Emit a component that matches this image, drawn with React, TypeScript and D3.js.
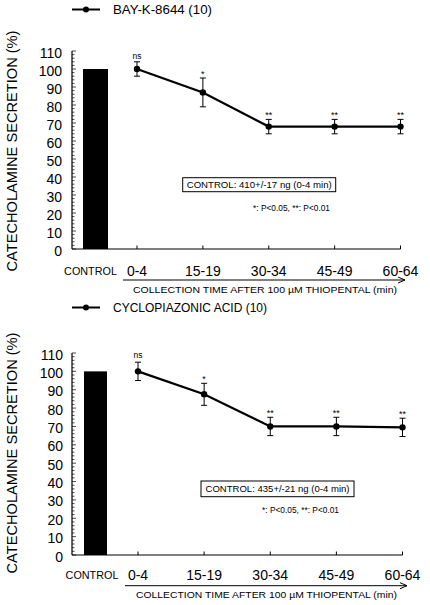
import React from "react";
import * as d3 from "d3";

// ---------- data ----------
const categories = ["0-4", "15-19", "30-34", "45-49", "60-64"];
const controlValue = 100;
const bayMeans = [100, 87, 68, 68, 68];
const bayErrors = [4, 8, 4, 4, 4];
const cpaMeans = [100, 87.5, 70, 70, 69.5];
const cpaErrors = [5, 6, 5, 5, 5];
const significance = ["ns", "*", "**", "**", "**"];
const yTicks = [0, 10, 20, 30, 40, 50, 60, 70, 80, 90, 100, 110];
const yMinorTicks = d3.range(0, 111, 2);

const FONT = "'Liberation Sans', Arial, Helvetica, sans-serif";

type PanelLayout = {
  y0: number;
  yTop: number;
  xStart: number;
  xEnd: number;
  barX1: number;
  barX2: number;
  axisX: number;
  axisEnd: number;
  tickLabelRight: number;
  labelY: number;
  controlLabelX: number;
  arrowX1: number;
  arrowX2: number;
  arrowY: number;
  titleX1: number;
  titleX2: number;
  titleY: number;
  legendY: number;
  legendText: string;
  legendSize: number;
  legendWidth: number;
  boxX: number;
  boxY: number;
  boxW: number;
  boxH: number;
  boxText: string;
  boxTextX: number;
  boxTextW: number;
  pX: number;
  pY: number;
  yTitleCenter: number;
  nsOffset: number;
  starOffset: number;
};

const topLayout: PanelLayout = {
  y0: 249,
  yTop: 51,
  xStart: 137,
  xEnd: 400.5,
  barX1: 83,
  barX2: 108,
  axisX: 72,
  axisEnd: 400.5,
  tickLabelRight: 62,
  labelY: 276,
  controlLabelX: 90.5,
  arrowX1: 123,
  arrowX2: 405,
  arrowY: 280,
  titleX1: 133,
  titleX2: 397,
  titleY: 292.5,
  legendY: 9.5,
  legendText: "BAY-K-8644 (10)",
  legendSize: 13,
  legendWidth: 99,
  boxX: 182.7,
  boxY: 177.7,
  boxW: 153,
  boxH: 14,
  boxText: "CONTROL: 410+/-17 ng (0-4 min)",
  boxTextX: 186.7,
  boxTextW: 145,
  pX: 253,
  pY: 211,
  yTitleCenter: 151,
  nsOffset: 3,
  starOffset: 1,
};

const bottomLayout: PanelLayout = {
  y0: 555,
  yTop: 353,
  xStart: 138,
  xEnd: 402.5,
  barX1: 84,
  barX2: 107,
  axisX: 72,
  axisEnd: 402.5,
  tickLabelRight: 63,
  labelY: 580,
  controlLabelX: 92,
  arrowX1: 125,
  arrowX2: 407,
  arrowY: 585.7,
  titleX1: 136,
  titleX2: 397,
  titleY: 597.5,
  legendY: 307.5,
  legendText: "CYCLOPIAZONIC ACID (10)",
  legendSize: 12,
  legendWidth: 154,
  boxX: 201,
  boxY: 481,
  boxW: 153,
  boxH: 15.7,
  boxText: "CONTROL: 435+/-21 ng (0-4 min)",
  boxTextX: 205.5,
  boxTextW: 144,
  pX: 262,
  pY: 513,
  yTitleCenter: 453,
  nsOffset: 4,
  starOffset: 1.5,
};

function Panel({ L, means, errors }: { L: PanelLayout; means: number[]; errors: number[] }) {
  const y = d3.scaleLinear().domain([0, 110]).range([L.y0, L.yTop]);
  const x = d3.scalePoint<string>().domain(categories).range([L.xStart, L.xEnd]);
  const pts = categories.map((c, i) => ({ c, m: means[i], e: errors[i], s: significance[i] }));
  const line = d3
    .line<(typeof pts)[number]>()
    .x((d) => x(d.c) as number)
    .y((d) => y(d.m));
  const titleLen = L.titleX2 - L.titleX1;

  return (
    <g fontFamily={FONT} fill="#000">
      {/* legend */}
      <line x1={72} x2={100} y1={L.legendY} y2={L.legendY} stroke="#000" strokeWidth={2} />
      <circle cx={86} cy={L.legendY} r={3} fill="#000" />
      <text
        x={113}
        y={L.legendY + L.legendSize * 0.358}
        fontSize={L.legendSize}
        textLength={L.legendWidth}
        lengthAdjust="spacingAndGlyphs"
      >
        {L.legendText}
      </text>

      {/* y axis title */}
      <text
        transform={`translate(16.5,${L.yTitleCenter}) rotate(-90)`}
        textAnchor="middle"
        fontSize={15}
        textLength={241}
        lengthAdjust="spacingAndGlyphs"
      >
        CATECHOLAMINE SECRETION (%)
      </text>

      {/* control bar */}
      <rect
        x={L.barX1}
        width={L.barX2 - L.barX1}
        y={y(controlValue)}
        height={y(0) - y(controlValue)}
        fill="#000"
      />

      {/* y axis */}
      <line x1={L.axisX} x2={L.axisX} y1={y(0)} y2={y(110)} stroke="#000" strokeWidth={1.2} />
      {yMinorTicks.map((t) => (
        <line
          key={"m" + t}
          x1={L.axisX}
          x2={L.axisX + (t % 10 === 0 ? 4 : 2.5)}
          y1={y(t)}
          y2={y(t)}
          stroke="#000"
          strokeWidth={0.7}
        />
      ))}
      {yTicks.map((t) => (
        <text
          key={"t" + t}
          x={L.tickLabelRight}
          y={y(t) + 6.5}
          textAnchor="end"
          fontSize={14}
        >
          {t}
        </text>
      ))}

      {/* x axis */}
      <line x1={L.axisX} x2={L.axisEnd} y1={y(0)} y2={y(0)} stroke="#000" strokeWidth={1.2} />
      {categories.map((c) => (
        <line
          key={"xt" + c}
          x1={x(c)}
          x2={x(c)}
          y1={y(0)}
          y2={y(0) - 3.5}
          stroke="#000"
          strokeWidth={1}
        />
      ))}
      {categories.map((c) => (
        <text key={"xl" + c} x={x(c)} y={L.labelY} textAnchor="middle" fontSize={14}>
          {c}
        </text>
      ))}
      <text x={L.controlLabelX} y={L.labelY - 1} textAnchor="middle" fontSize={10.8}>
        CONTROL
      </text>

      {/* arrow and x title */}
      <line x1={L.arrowX1} x2={L.arrowX2} y1={L.arrowY} y2={L.arrowY} stroke="#000" strokeWidth={1} />
      <path
        d={`M${L.arrowX2 - 7},${L.arrowY - 3} L${L.arrowX2},${L.arrowY} L${L.arrowX2 - 7},${L.arrowY + 3}`}
        fill="none"
        stroke="#000"
        strokeWidth={1}
      />
      <text
        x={L.titleX1}
        y={L.titleY}
        fontSize={9.5}
        textLength={titleLen}
        lengthAdjust="spacingAndGlyphs"
      >
        COLLECTION TIME AFTER 100 µM THIOPENTAL (min)
      </text>

      {/* line + points */}
      <path d={line(pts) || ""} fill="none" stroke="#000" strokeWidth={2.2} />
      {pts.map((d) => {
        const cx = x(d.c) as number;
        const top = y(d.m + d.e);
        const bot = y(d.m - d.e);
        return (
          <g key={"p" + d.c}>
            <line x1={cx} x2={cx} y1={top} y2={bot} stroke="#000" strokeWidth={1} />
            <line x1={cx - 3} x2={cx + 3} y1={top} y2={top} stroke="#000" strokeWidth={1} />
            <line x1={cx - 3} x2={cx + 3} y1={bot} y2={bot} stroke="#000" strokeWidth={1} />
            <circle cx={cx} cy={y(d.m)} r={3.2} fill="#000" />
            <text
              x={cx}
              y={top - (d.s === "ns" ? L.nsOffset : L.starOffset)}
              textAnchor="middle"
              fontSize={d.s === "ns" ? 8.5 : 9}
            >
              {d.s}
            </text>
          </g>
        );
      })}

      {/* control box */}
      <rect x={L.boxX} y={L.boxY} width={L.boxW} height={L.boxH} fill="#fff" stroke="#000" strokeWidth={1} />
      <text
        x={L.boxTextX}
        y={L.boxY + L.boxH / 2 + 3.4}
        fontSize={9.6}
        textLength={L.boxTextW}
        lengthAdjust="spacingAndGlyphs"
      >
        {L.boxText}
      </text>
      <text x={L.pX} y={L.pY} fontSize={8.3} textLength={77} lengthAdjust="spacingAndGlyphs">
        *: P&lt;0.05, **: P&lt;0.01
      </text>
    </g>
  );
}

export default function App() {
  return (
    <svg
      width={430}
      height={605}
      style={{ position: "absolute", left: 0, top: 0, background: "#fff" }}
    >
      <rect width={430} height={605} fill="#fff" />
      <Panel L={topLayout} means={bayMeans} errors={bayErrors} />
      <Panel L={bottomLayout} means={cpaMeans} errors={cpaErrors} />
    </svg>
  );
}
